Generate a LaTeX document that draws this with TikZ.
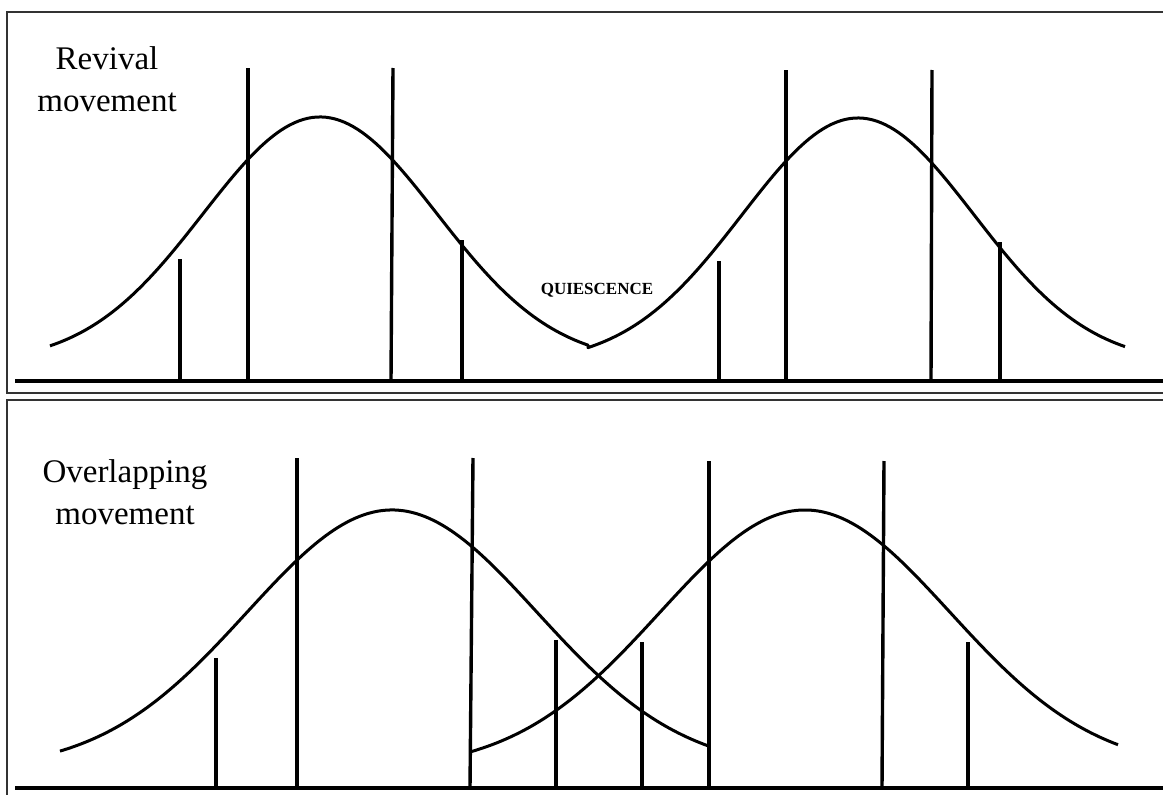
\documentclass[tikz,border=0pt]{standalone}
\usepackage{fontspec}
\setmainfont{Liberation Serif}
\begin{document}
\begin{tikzpicture}[x=1pt,y=-1pt,
  frame/.style={draw=black!80,line width=1.4pt},
  axis/.style={line width=4pt},
  bar/.style={line width=3.4pt},
  curve/.style={line width=3pt,line join=round},
  lbl/.style={font=\fontsize{33}{42}\selectfont,align=center,inner sep=0pt}]
\useasboundingbox (0,0) rectangle (1163,795);
% frames
\draw[frame] (1163,12) -- (7,12) -- (7,393) -- (1163,393);
\draw[frame] (1163,400) -- (7,400) -- (7,795);
% ---------- top panel ----------
\draw[curve] plot[domain=50:588,samples=120] (\x,{363-246*exp(-0.5*((\x-320)/117)^2)})
  -- plot[domain=588:1125,samples=120] (\x,{364-246*exp(-0.5*((\x-858)/116)^2)});
\coordinate (ta0) at (15,381);
\coordinate (ta1) at (1163,381);
\draw[axis] (ta0) -- (ta1);
\foreach \xb/\xt/\yt in {180/180/259, 248/248/68, 391/393/68, 462/462/240, 719/719/261, 786/786/70, 931/932/70, 1000/1000/242}
  \draw[bar] (\xb,381) -- (\xt,\yt);
\node[lbl] (rev) at (107,79) {Revival\\movement};
\node[font=\fontsize{17}{18}\selectfont\bfseries,inner sep=0pt] (q) at (597,290) {QUIESCENCE};
% ---------- bottom panel ----------
\draw[curve] plot[domain=60:708,samples=150] (\x,{770-260*exp(-0.5*((\x-392)/145)^2)});
\draw[curve] plot[domain=470:1118,samples=150] (\x,{770-260*exp(-0.5*((\x-805)/145)^2)});
\coordinate (ba0) at (15,788);
\coordinate (ba1) at (1163,788);
\draw[axis] (ba0) -- (ba1);
\foreach \xb/\xt/\yt in {216/216/658, 297/297/458, 470/473/458, 556/556/640, 642/642/642, 709/709/461, 882/884/461, 968/968/642}
  \draw[bar] (\xb,788) -- (\xt,\yt);
\node[lbl] (ovl) at (125,492) {Overlapping\\movement};
\end{tikzpicture}
\end{document}
